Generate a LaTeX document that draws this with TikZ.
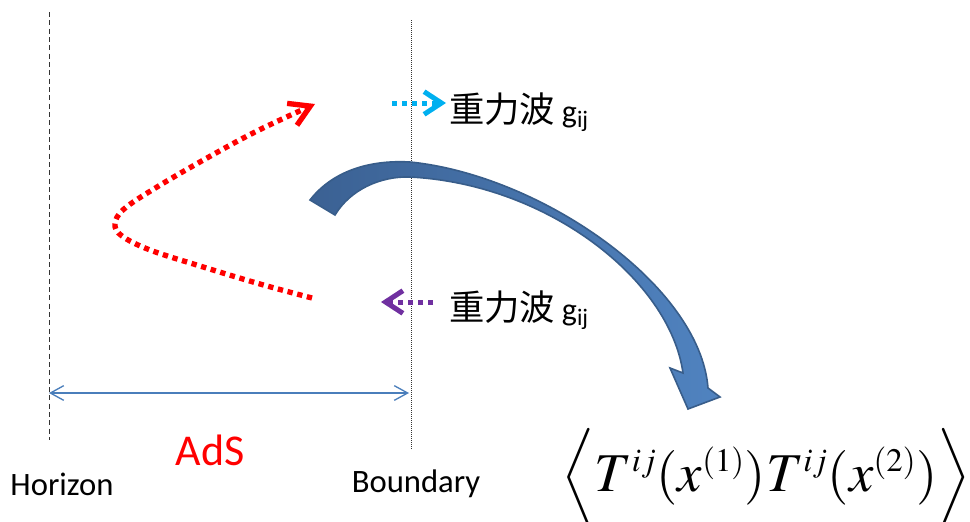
\documentclass[tikz,border=0pt]{standalone}
\usepackage{amsmath}
\usepackage{mathptmx}
\usepackage{fontspec}
\setmainfont{Carlito}
\newfontfamily\cjk{Noto Sans CJK JP}
\usetikzlibrary{arrows.meta}
\definecolor{redd}{HTML}{FF0000}
\definecolor{cyanl}{HTML}{00B0F0}
\definecolor{purp}{HTML}{7030A0}
\definecolor{bline}{HTML}{4A7EBB}
\definecolor{bdark}{HTML}{385D8A}
\definecolor{bfillA}{HTML}{3B6193}
\definecolor{bfillB}{HTML}{5083C0}
\tikzset{
  wavearrow/.style={line width=3.75pt, dash pattern=on 3.75pt off 3.75pt,
    -{Straight Barb[length=13pt,width=17pt]}},
  wavelabel/.style={anchor=base west, inner sep=0pt},
  sidelabel/.style={font=\fontsize{24.5}{28}\selectfont, inner sep=0pt}
}
\newcommand{\wavetext}{{\fontsize{26.5}{30}\selectfont\cjk 重力波}\hspace{5pt}{\fontsize{24}{28}\selectfont g\textsubscript{ij}}}
\begin{document}
\begin{tikzpicture}[x=0.75pt,y=-0.75pt]
\useasboundingbox (0,0) rectangle (970,521);
% horizon and boundary lines
\coordinate (htop) at (49,12);
\coordinate (hbot) at (49,440);
\coordinate (btop) at (411,20);
\coordinate (bbot) at (411,450);
\draw[black!80, line width=0.75pt, dash pattern=on 3.75pt off 2.5pt] (htop) -- (hbot);
\draw[black!80, line width=0.75pt, dash pattern=on 0.75pt off 0.75pt] (btop) -- (bbot);
% AdS double arrow
\coordinate (aL) at (49,393);
\coordinate (aR) at (409,393);
\draw[bline, line width=1pt, {Straight Barb[length=10pt,width=11pt]}-{Straight Barb[length=10pt,width=11pt]}] (aL) -- (aR);
\node[red, font=\fontsize{33}{38}\selectfont, inner sep=0pt] (ads) at (210,450) {AdS};
\node[sidelabel] (hor) at (62,484) {Horizon};
\node[sidelabel] (bnd) at (416,484) {Boundary};
% big curved arrow
\shade[left color=bfillA, right color=bfillB, draw=bdark, line width=1.2pt, line join=miter]
  (310,200) .. controls (335,168) and (375,160) .. (410,162)
  .. controls (540,175) and (700,285) .. (708,388)
  -- (720,397) -- (688,409) -- (670,368) -- (683,373)
  .. controls (670,280) and (548,184) .. (410,177)
  .. controls (380,176) and (350,190) .. (335,215)
  -- cycle;
% red dotted curve
\draw[redd, line width=4pt, dash pattern=on 4pt off 3.5pt, -{Straight Barb[length=15pt,width=18pt]}]
  plot[smooth, tension=0.6] coordinates {(312,298) (260,284) (200,266) (150,250) (122,236) (115,224) (124,209) (157,187) (207,158) (257,131) (315,104)};
% gravitational wave arrows
\coordinate (c1) at (392,103);
\coordinate (c2) at (446,103);
\draw[cyanl, wavearrow] (c1) -- (c2);
\coordinate (p1) at (433,302);
\coordinate (p2) at (381,302);
\draw[purp, wavearrow] (p1) -- (p2);
\node[wavelabel] (g1) at (449,122) {\wavetext};
\node[wavelabel] (g2) at (449,320) {\wavetext};
% correlator
\node[font=\fontsize{41}{48}\selectfont, inner sep=0pt] (corr) at (766,478) {$\Bigl\langle T^{\scriptscriptstyle ij}(x^{\scriptscriptstyle (1)})T^{\scriptscriptstyle ij}(x^{\scriptscriptstyle (2)})\Bigr\rangle$};
\end{tikzpicture}
\end{document}
